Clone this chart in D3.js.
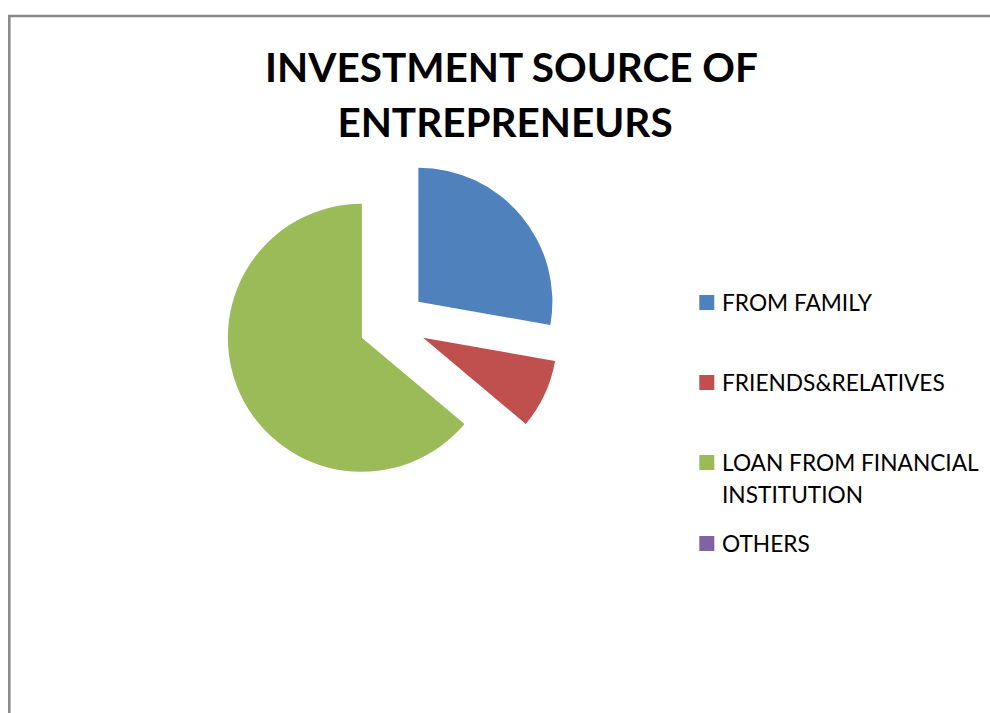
<!DOCTYPE html>
<html>
<head>
<meta charset="utf-8">
<script src="https://cdn.jsdelivr.net/npm/d3@7"></script>
<style>
  html, body { margin: 0; padding: 0; background: #fff; }
  svg { display: block; }
</style>
</head>
<body>
<svg id="chart" width="990" height="713"></svg>
<script>
// Investment sources reported by entrepreneurs
const categories = ["FROM FAMILY", "FRIENDS&RELATIVES", "LOAN FROM FINANCIAL INSTITUTION", "OTHERS"];
const values = [10, 3, 23, 0];
const colors = ["#4F81BD", "#C0504D", "#9BBB59", "#8064A2"];
const titleLines = ["INVESTMENT SOURCE OF", "ENTREPRENEURS"];
const legendLines = [["FROM FAMILY"], ["FRIENDS&RELATIVES"], ["LOAN FROM FINANCIAL", "INSTITUTION"], ["OTHERS"]];

const svg = d3.select("#chart");
const FONT = "Lato, 'Open Sans', 'Noto Sans', sans-serif";

// chart area frame (top and left edges visible)
svg.append("rect")
  .attr("x", 9.3).attr("y", 16)
  .attr("width", 1200).attr("height", 1000)
  .attr("fill", "none")
  .attr("stroke", "#888888")
  .attr("stroke-width", 2.5);

// fit a text element's font size so its width matches a target
function fitWidth(sel, target) {
  const node = sel.node();
  const fs = parseFloat(sel.attr("font-size"));
  const w = node.getComputedTextLength();
  sel.attr("font-size", fs * target / w);
  return fs * target / w;
}

// title
const title = svg.append("g");
const t1 = title.append("text")
  .attr("x", 511.5).attr("y", 81.7)
  .attr("text-anchor", "middle")
  .attr("font-family", FONT).attr("font-weight", "bold")
  .attr("font-size", 36).attr("fill", "#000")
  .text(titleLines[0]);
const titleSize = fitWidth(t1, 493);
title.append("text")
  .attr("x", 505).attr("y", 136.7)
  .attr("text-anchor", "middle")
  .attr("font-family", FONT).attr("font-weight", "bold")
  .attr("font-size", titleSize).attr("fill", "#000")
  .text(titleLines[1]);

// exploded pie
const cx = 392.5, cy = 323.5, radius = 134, explode = 33.8;
const pie = d3.pie().sort(null).value(d => d).startAngle(0).endAngle(2 * Math.PI);
const arc = d3.arc().innerRadius(0).outerRadius(radius);
const arcs = pie(values);

svg.append("g")
  .attr("transform", `translate(${cx},${cy})`)
  .selectAll("path")
  .data(arcs.filter(d => d.value > 0))
  .join("path")
  .attr("transform", d => {
    const mid = (d.startAngle + d.endAngle) / 2;
    return `translate(${Math.sin(mid) * explode},${-Math.cos(mid) * explode})`;
  })
  .attr("d", arc)
  .attr("fill", d => colors[d.index]);

// legend
const legendBaselines = [311, 391, 471, 552];
const lineGap = 32;
const legend = svg.append("g");
const items = legend.selectAll("g")
  .data(categories)
  .join("g");

items.append("rect")
  .attr("x", 699.3)
  .attr("y", (d, i) => legendBaselines[i] - 16)
  .attr("width", 15).attr("height", 15)
  .attr("fill", (d, i) => colors[i]);

const labels = items.append("text")
  .attr("x", 722)
  .attr("y", (d, i) => legendBaselines[i])
  .attr("font-family", FONT)
  .attr("font-size", 20)
  .attr("fill", "#000");

labels.selectAll("tspan")
  .data((d, i) => legendLines[i])
  .join("tspan")
  .attr("x", 722)
  .attr("dy", (d, j) => j === 0 ? 0 : lineGap)
  .text(d => d);

// size legend text so "FROM FAMILY" spans its measured width
const probe = svg.append("text")
  .attr("font-family", FONT).attr("font-size", 20)
  .text(legendLines[0][0]);
const legendSize = 20 * 150 / probe.node().getComputedTextLength();
probe.remove();
labels.attr("font-size", legendSize);
</script>
</body>
</html>
